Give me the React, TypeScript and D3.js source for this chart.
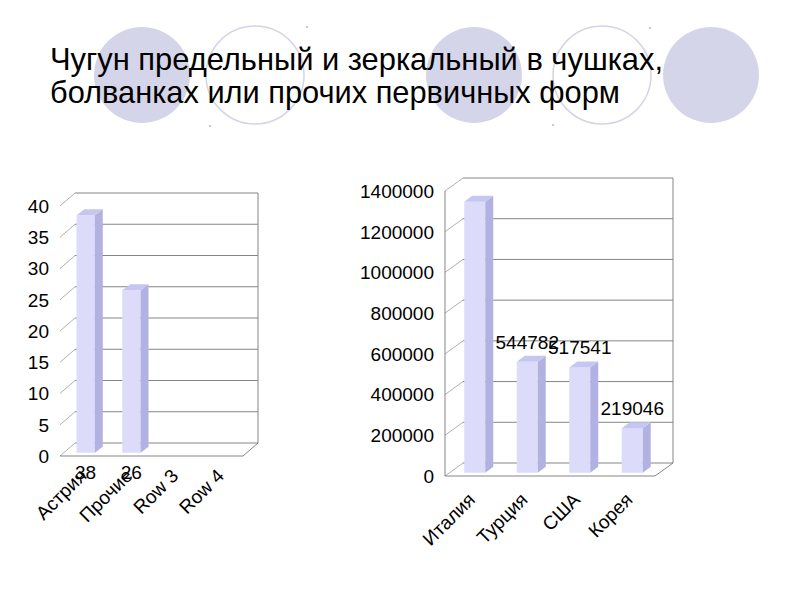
import React from "react";
import * as d3 from "d3";

// ---------- data ----------
const titleLines = [
  "Чугун предельный и зеркальный в чушках,",
  "болванках или прочих первичных форм",
];

const leftCategories = ["Астрия", "Прочие", "Row 3", "Row 4"];
const leftValues: (number | null)[] = [38, 26, null, null];
const leftTicks = [0, 5, 10, 15, 20, 25, 30, 35, 40];
const leftLabelShown = [true, true, false, false];

const rightCategories = ["Италия", "Турция", "США", "Корея"];
const rightValues: (number | null)[] = [1331000, 544782, 517541, 219046];
const rightTicks = [0, 200000, 400000, 600000, 800000, 1000000, 1200000, 1400000];
const rightLabelShown = [false, true, true, true];

// decorative background circles
const circleCenters = [142, 255, 474, 602, 711];
const circleFilled = [true, false, true, false, true];
const dotPositions: [number, number][] = [
  [210, 126],
  [307, 27],
  [553, 125],
  [650, 28],
];

// ---------- styles ----------
const FRONT = "#dcdcfa";
const SIDE = "#b2b2e2";
const TOP = "#c6c6f2";
const GRID = "#858585";
const FONT = "'Liberation Sans', Arial, sans-serif";
const FS = 19;

type ChartCfg = {
  x0: number;
  x1: number;
  floor: number;
  top: number;
  dx: number;
  dy: number;
  max: number;
  categories: string[];
  values: (number | null)[];
  ticks: number[];
  shown: boolean[];
  labelsAtBottom: boolean;
  catDy: number;
  leftAxisLine: boolean;
};

function Chart3D({ c }: { c: ChartCfg }) {
  const y = d3.scaleLinear().domain([0, c.max]).range([c.floor, c.top]);
  const x = d3
    .scaleBand<string>()
    .domain(c.categories)
    .range([c.x0, c.x1])
    .paddingInner(0)
    .paddingOuter(0);
  const bw = x.bandwidth() * 0.4;
  const bdx = 8;
  const bdy = -6;
  const off = 0.25;

  const bx = (cat: string) => x(cat)! + x.bandwidth() / 2 + c.dx * off - bw / 2 - 1;

  return (
    <g>
      {c.ticks.map((t) => (
        <line
          key={"g" + t}
          x1={c.x0 + c.dx}
          x2={c.x1 + c.dx}
          y1={y(t) + c.dy}
          y2={y(t) + c.dy}
          stroke={GRID}
          strokeWidth={1}
        />
      ))}
      {c.ticks.map((t) => (
        <line
          key={"d" + t}
          x1={c.x0}
          y1={y(t)}
          x2={c.x0 + c.dx}
          y2={y(t) + c.dy}
          stroke="#9a9a9a"
          strokeWidth={0.8}
        />
      ))}
      <line
        x1={c.x1 + c.dx}
        x2={c.x1 + c.dx}
        y1={y(c.max) + c.dy}
        y2={y(0) + c.dy}
        stroke={GRID}
      />
      <line x1={c.x0} x2={c.x1} y1={y(0)} y2={y(0)} stroke={GRID} />
      <line x1={c.x1} y1={y(0)} x2={c.x1 + c.dx} y2={y(0) + c.dy} stroke={GRID} />
      {c.leftAxisLine && (
        <line x1={c.x0} x2={c.x0} y1={y(0)} y2={y(c.max)} stroke={GRID} />
      )}
      {c.ticks.map((t) => (
        <text
          key={"t" + t}
          x={c.x0 - 11}
          y={y(t)}
          dy="0.36em"
          textAnchor="end"
          fontSize={FS}
          fontFamily={FONT}
          fill="#000"
        >
          {t}
        </text>
      ))}
      {c.categories.map((cat, i) => {
        const v = c.values[i];
        if (v == null) return null;
        const left = bx(cat);
        const yb = y(0) + c.dy * off;
        const yt = y(v) + c.dy * off;
        return (
          <g key={"b" + cat}>
            <rect x={left} y={yt} width={bw} height={yb - yt} fill={FRONT} />
            <polygon
              points={`${left + bw},${yt} ${left + bw + bdx},${yt + bdy} ${left + bw + bdx},${yb + bdy} ${left + bw},${yb}`}
              fill={SIDE}
            />
            <polygon
              points={`${left},${yt} ${left + bdx},${yt + bdy} ${left + bw + bdx},${yt + bdy} ${left + bw},${yt}`}
              fill={TOP}
            />
          </g>
        );
      })}
      {c.categories.map((cat) => {
        const px = x(cat)! + x.bandwidth() / 2 + 5;
        const py = y(0) + c.catDy;
        return (
          <text
            key={"c" + cat}
            transform={`translate(${px},${py}) rotate(-45)`}
            textAnchor="end"
            fontSize={FS}
            fontFamily={FONT}
            fill="#000"
          >
            {cat}
          </text>
        );
      })}
      {c.categories.map((cat, i) => {
        const v = c.values[i];
        if (v == null || !c.shown[i]) return null;
        const cx = bx(cat) + bw / 2;
        const ty = c.labelsAtBottom ? y(0) + 23 : y(v) + c.dy * off - 13;
        return (
          <text
            key={"l" + cat}
            x={cx}
            y={ty}
            textAnchor="middle"
            fontSize={FS}
            fontFamily={FONT}
            fill="#000"
          >
            {v}
          </text>
        );
      })}
    </g>
  );
}

export default function App() {
  const left: ChartCfg = {
    x0: 60,
    x1: 243,
    floor: 456,
    top: 206,
    dx: 15,
    dy: -13,
    max: 40,
    categories: leftCategories,
    values: leftValues,
    ticks: leftTicks,
    shown: leftLabelShown,
    labelsAtBottom: true,
    catDy: 21,
    leftAxisLine: false,
  };
  const right: ChartCfg = {
    x0: 445,
    x1: 655,
    floor: 476,
    top: 191,
    dx: 18,
    dy: -13,
    max: 1400000,
    categories: rightCategories,
    values: rightValues,
    ticks: rightTicks,
    shown: rightLabelShown,
    labelsAtBottom: false,
    catDy: 25,
    leftAxisLine: true,
  };

  const titleFont = "'Liberation Sans Narrow', 'Arial Narrow', 'Liberation Sans', sans-serif";

  return (
    <svg
      width={800}
      height={600}
      viewBox="0 0 800 600"
      style={{ position: "absolute", left: 0, top: 0, background: "#fff" }}
    >
      <rect x={0} y={0} width={800} height={600} fill="#fff" />
      {circleCenters.map((cx, i) => (
        <circle
          key={"c" + i}
          cx={cx}
          cy={75}
          r={circleFilled[i] ? 48 : 49}
          fill={circleFilled[i] ? "#d5d5ea" : "none"}
          stroke={circleFilled[i] ? "none" : "#d4d4e6"}
          strokeWidth={1.5}
        />
      ))}
      {dotPositions.map(([dx, dy], i) => (
        <rect key={"p" + i} x={dx - 1} y={dy - 1} width={2} height={2} fill="#c8c8c8" />
      ))}
      <text
        x={50}
        y={70}
        fontSize={32}
        fontFamily={titleFont}
        textLength={613}
        lengthAdjust="spacingAndGlyphs"
        fill="#000"
      >
        {titleLines[0]}
      </text>
      <text
        x={50}
        y={103}
        fontSize={32}
        fontFamily={titleFont}
        textLength={570}
        lengthAdjust="spacingAndGlyphs"
        fill="#000"
      >
        {titleLines[1]}
      </text>
      <Chart3D c={left} />
      <Chart3D c={right} />
    </svg>
  );
}
